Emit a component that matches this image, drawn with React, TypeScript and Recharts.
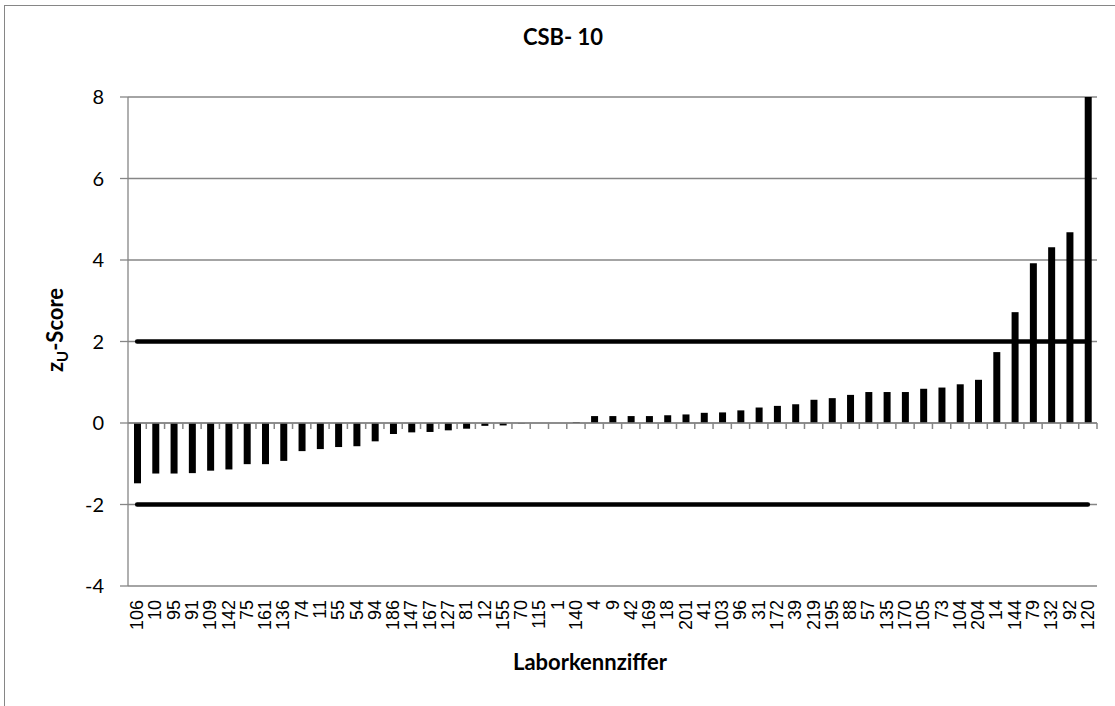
import React from "react";
import { ComposedChart, Bar, Line, XAxis, YAxis, CartesianGrid, ReferenceLine } from "recharts";

// Laborkennziffern, sorted by z_U-score
const labs = [
  "106", "10", "95", "91", "109", "142", "75", "161", "136", "74",
  "11", "55", "54", "94", "186", "147", "167", "127", "81", "12",
  "155", "70", "115", "1", "140", "4", "9", "42", "169", "18",
  "201", "41", "103", "96", "31", "172", "39", "219", "195", "88",
  "57", "135", "170", "105", "73", "104", "204", "14", "144", "79",
  "132", "92", "120",
];

const zScores = [
  -1.48, -1.24, -1.24, -1.23, -1.17, -1.14, -1.01, -1.01, -0.93, -0.69,
  -0.64, -0.59, -0.57, -0.45, -0.27, -0.23, -0.22, -0.18, -0.14, -0.07,
  -0.06, -0.01, 0, 0, 0.02, 0.17, 0.17, 0.17, 0.17, 0.19,
  0.21, 0.25, 0.26, 0.31, 0.38, 0.42, 0.46, 0.57, 0.61, 0.69,
  0.76, 0.76, 0.76, 0.84, 0.87, 0.95, 1.06, 1.74, 2.72, 3.92,
  4.31, 4.68, 8,
];

const upperLimit = 2;
const lowerLimit = -2;
const yTicks = [-4, -2, 0, 2, 4, 6, 8];

const data = labs.map((lab, i) => ({ lab, z: zScores[i], upper: upperLimit, lower: lowerLimit }));

const GRAY = "#868686";
const TITLE_FONT = "Lato, 'Open Sans', sans-serif";

// rotated category labels, reading bottom-to-top
// eslint-disable-next-line @typescript-eslint/no-explicit-any
const LabTick = ({ x, y, payload }: any) => (
  <text
    x={x}
    y={y}
    transform={`rotate(-90, ${x}, ${y})`}
    textAnchor="end"
    dominantBaseline="central"
    fontFamily="'Liberation Sans', Arial, sans-serif"
    fontSize={18}
    fill="#000"
  >
    {payload.value}
  </text>
);

// zero axis line with tick marks between the categories (Excel style)
// eslint-disable-next-line @typescript-eslint/no-explicit-any
const ZeroAxis = (props: any) => {
  const { x1, x2, y1 } = props;
  const band = (x2 - x1) / labs.length;
  return (
    <g>
      <line x1={x1} y1={y1} x2={x2} y2={y1} stroke={GRAY} strokeWidth={1.5} />
      {labs.map((_, i) => {
        const tx = x1 + band * (i + 1);
        return <line key={i} x1={tx} y1={y1} x2={tx} y2={y1 + 6} stroke={GRAY} strokeWidth={1.5} />;
      })}
    </g>
  );
};

export default function App() {
  return (
    <div style={{ position: "absolute", left: 0, top: 0, width: 1115, height: 706, overflow: "hidden", background: "#fff" }}>
      <div style={{ position: "absolute", left: 4, top: 5, width: 1140, height: 730, border: `1px solid ${GRAY}` }} />
      <div
        style={{
          position: "absolute", left: 463, width: 200, top: 23, textAlign: "center",
          fontFamily: TITLE_FONT, fontWeight: 700, fontSize: 22, lineHeight: "28px", color: "#000",
        }}
      >
        CSB- 10
      </div>
      <div
        style={{
          position: "absolute", left: 480, width: 220, top: 648, textAlign: "center",
          fontFamily: TITLE_FONT, fontWeight: 700, fontSize: 22, lineHeight: "28px", color: "#000",
        }}
      >
        Laborkennziffer
      </div>
      <svg style={{ position: "absolute", left: 0, top: 0 }} width={100} height={706}>
        <text
          transform="rotate(-90, 63, 330)"
          x={63}
          y={330}
          textAnchor="middle"
          fontFamily={TITLE_FONT}
          fontWeight={700}
          fontSize={22}
          fill="#000"
        >
          <tspan>z</tspan>
          <tspan dy={5} fontSize={15}>U</tspan>
          <tspan dy={-5}>-Score</tspan>
        </text>
      </svg>
      <div style={{ position: "absolute", left: 0, top: 0 }}>
        <ComposedChart
          width={1115}
          height={706}
          data={data}
          margin={{ top: 97, right: 18, left: 68, bottom: 20 }}
          style={{ fontFamily: TITLE_FONT }}
        >
          <CartesianGrid vertical={false} stroke={GRAY} strokeWidth={1.3} />
          <XAxis
            dataKey="lab"
            interval={0}
            axisLine={false}
            tickLine={false}
            tickSize={0}
            tickMargin={14}
            height={100}
            tick={<LabTick />}
          />
          <YAxis
            width={60}
            domain={[-4, 8]}
            ticks={yTicks}
            interval={0}
            axisLine={{ stroke: GRAY, strokeWidth: 1.3 }}
            tickLine={{ stroke: GRAY, strokeWidth: 1.3 }}
            tickSize={8}
            tickMargin={16}
            tick={{ fontSize: 20, fill: "#000", fontFamily: TITLE_FONT }}
          />
          <Bar dataKey="z" fill="#000" barSize={7} isAnimationActive={false} />
          <ReferenceLine y={0} shape={<ZeroAxis />} />
          <Line
            dataKey="upper"
            stroke="#000"
            strokeWidth={4.5}
            strokeLinecap="round"
            dot={false}
            activeDot={false}
            isAnimationActive={false}
          />
          <Line
            dataKey="lower"
            stroke="#000"
            strokeWidth={4.5}
            strokeLinecap="round"
            dot={false}
            activeDot={false}
            isAnimationActive={false}
          />
        </ComposedChart>
      </div>
    </div>
  );
}
